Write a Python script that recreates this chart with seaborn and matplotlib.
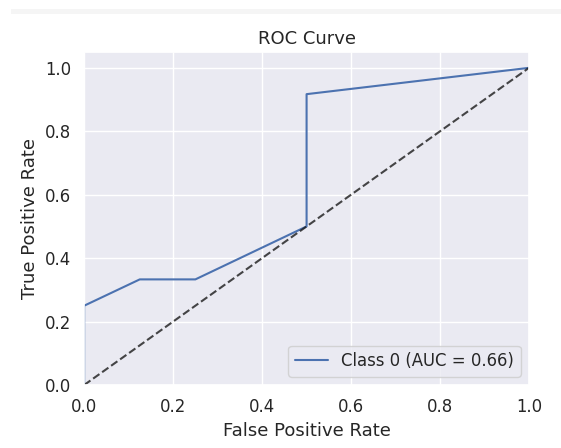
import matplotlib
matplotlib.use("Agg")
import matplotlib.pyplot as plt
import seaborn as sns
import pandas as pd

# ROC points
fpr = [0.0, 0.0, 0.125, 0.25, 0.5, 0.5, 1.0]
tpr = [0.0, 0.25, 0.333, 0.333, 0.5, 0.917, 1.0]
auc_label = "Class 0 (AUC = 0.66)"
diag = [0.0, 1.0]

sns.set_theme(style="darkgrid", font_scale=1.08)

fig = plt.figure(figsize=(5.61, 4.48), dpi=100)
# light strip along the top of the screenshot
fig.patches.append(plt.Rectangle((0.02, 0.969), 0.98, 0.012, transform=fig.transFigure,
                                 facecolor="#f5f5f5", edgecolor="none", zorder=0))
ax = fig.add_axes([0.15, 0.1406, 0.793, 0.7434])

df = pd.DataFrame({"fpr": fpr, "tpr": tpr})
ax.plot(df["fpr"], df["tpr"], color="#4c72b0", lw=1.5, label=auc_label)
sns.lineplot(x=diag, y=diag, ax=ax, color="k", linestyle="--", lw=1.5, alpha=0.8)

ax.set_xlim(0.0, 1.0)
ax.set_ylim(0.0, 1.05)
ax.set_xlabel("False Positive Rate")
ax.set_ylabel("True Positive Rate")
ax.set_title("ROC Curve")
ax.legend(loc="lower right")

fig.savefig("out.png", dpi=100)
